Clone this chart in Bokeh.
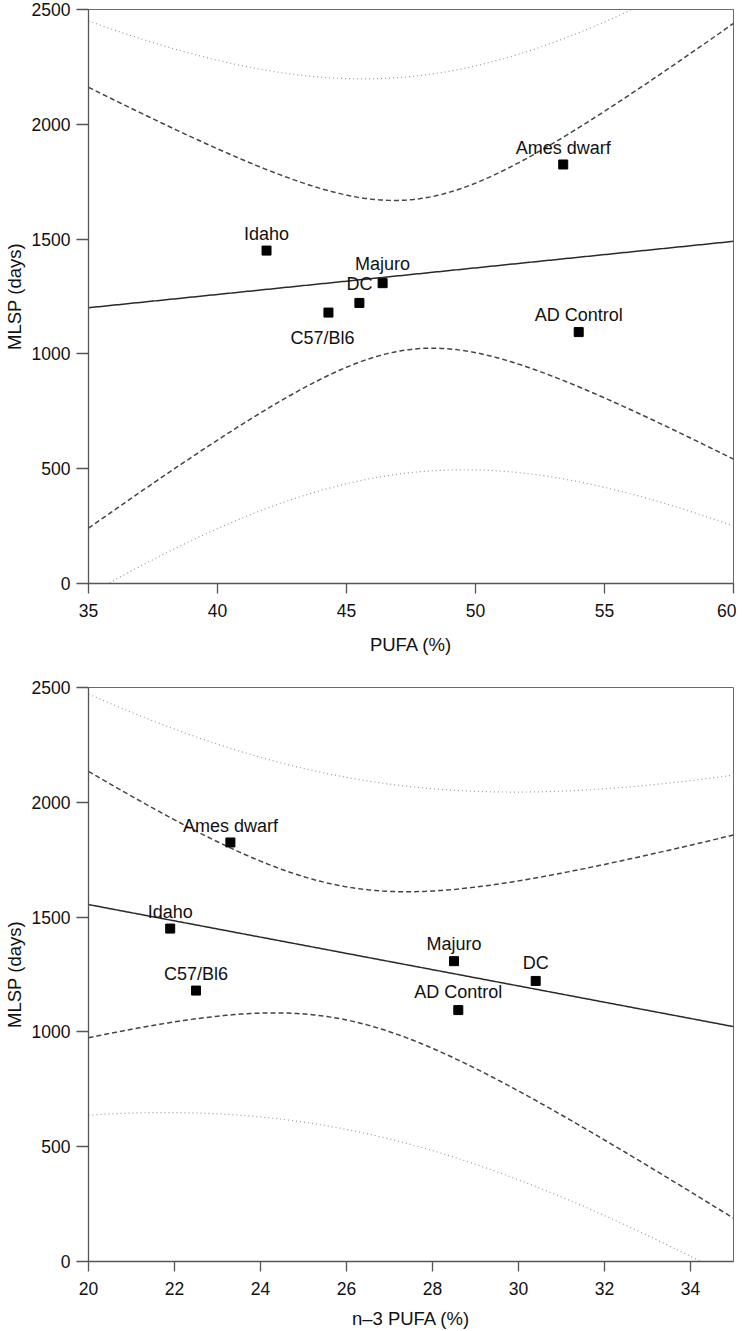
import numpy as np
from bokeh.plotting import figure
from bokeh.layouts import column
from bokeh.models import ColumnDataSource, FixedTicker, Range1d
from bokeh.embed import file_html
from bokeh.resources import INLINE
from bokeh.core.properties import value

# ---- data ----
names = ["Idaho", "C57/Bl6", "DC", "Majuro", "Ames dwarf", "AD Control"]
mlsp = [1450, 1180, 1222, 1308, 1825, 1095]          # MLSP (days)
pufa = [41.9, 44.3, 45.5, 46.4, 53.4, 54.0]          # PUFA (%)
n3_pufa = [21.9, 22.5, 30.4, 28.5, 23.3, 28.6]       # n-3 PUFA (%)

pufa_ticks = [35, 40, 45, 50, 55, 60]
n3_ticks = [20, 22, 24, 26, 28, 30, 32, 34]
mlsp_ticks = [0, 500, 1000, 1500, 2000, 2500]

T_CRIT = 2.776  # Student t, 97.5 %, df = n - 2 = 4

# label placement (pixels) – style only
top_dx = [0, -6, 0, 0, 0, 0]
top_dy = [-17, 25, -19, -19, -16, -17]
bot_dx = [0, 0, 0, 0, 0, 0]
bot_dy = [-17, -17, -18, -17, -16, -18]

FONT = "Liberation Sans"


def fit_bands(x, y, lo, hi):
    x = np.asarray(x, float)
    y = np.asarray(y, float)
    n = len(x)
    b, a = np.polyfit(x, y, 1)
    resid = y - (a + b * x)
    s = np.sqrt(np.sum(resid ** 2) / (n - 2))
    xm = x.mean()
    sxx = np.sum((x - xm) ** 2)
    xs = np.linspace(lo, hi, 301)
    yh = a + b * xs
    ci = T_CRIT * s * np.sqrt(1.0 / n + (xs - xm) ** 2 / sxx)
    pi = T_CRIT * s * np.sqrt(1.0 + 1.0 / n + (xs - xm) ** 2 / sxx)
    return xs, yh, ci, pi


def make_fig(xv, xlo, xhi, xticks, xlabel, dx, dy, border_top, border_bottom,
             title_standoff):
    p = figure(frame_width=645, frame_height=574,
               x_range=Range1d(xlo, xhi), y_range=Range1d(0, 2500),
               output_backend="svg", toolbar_location=None,
               min_border_left=78, min_border_right=3,
               min_border_top=border_top, min_border_bottom=border_bottom)
    p.grid.visible = False
    p.background_fill_color = "white"
    p.border_fill_color = "white"
    p.outline_line_color = "#6a6a6a"
    p.outline_line_width = 1

    xs, yh, ci, pi = fit_bands(xv, mlsp, xlo, xhi)
    p.line(xs, yh + pi, line_color="#9a9a9a", line_width=1.2, line_dash="1 3")
    p.line(xs, yh - pi, line_color="#9a9a9a", line_width=1.2, line_dash="1 3")
    p.line(xs, yh + ci, line_color="#444444", line_width=1.5, line_dash="5 3")
    p.line(xs, yh - ci, line_color="#444444", line_width=1.5, line_dash="5 3")
    p.line(xs, yh, line_color="#2a2a2a", line_width=1.5)

    src = ColumnDataSource(dict(x=xv, y=mlsp, name=names, dx=dx, dy=dy))
    p.scatter("x", "y", source=src, marker="square", size=9,
              fill_color="black", line_color="black")
    p.text("x", "y", text="name", source=src, x_offset="dx", y_offset="dy",
           text_align="center", text_baseline="middle",
           text_font=value(FONT), text_font_size="18px", text_color="#111111")

    for ax in (p.xaxis[0], p.yaxis[0]):
        ax.axis_line_color = "#555555"
        ax.axis_line_width = 1.3
        ax.major_tick_line_color = "#555555"
        ax.major_tick_line_width = 1.3
        ax.minor_tick_line_color = None
        ax.major_tick_in = 0
        ax.major_label_text_font = FONT
        ax.major_label_text_font_size = "17.5px"
        ax.major_label_text_color = "#111111"
        ax.axis_label_text_font = FONT
        ax.axis_label_text_font_size = "18.5px"
        ax.axis_label_text_font_style = "normal"
        ax.axis_label_text_color = "#111111"

    p.xaxis.ticker = FixedTicker(ticks=xticks)
    p.xaxis.major_tick_out = 10
    p.xaxis.major_label_standoff = 10
    p.xaxis.axis_label = xlabel
    p.xaxis.axis_label_standoff = title_standoff

    p.yaxis.ticker = FixedTicker(ticks=mlsp_ticks)
    p.yaxis.major_tick_out = 12
    p.yaxis.major_label_standoff = 6
    p.yaxis.axis_label = "MLSP (days)"
    p.yaxis.axis_label_standoff = 4
    return p


p1 = make_fig(pufa, 35, 60, pufa_ticks, "PUFA (%)", top_dx, top_dy, 9, 70, 14)
p2 = make_fig(n3_pufa, 20, 35, n3_ticks, "n\u20133 PUFA (%)", bot_dx, bot_dy, 30, 66, 10)

layout = column(p1, p2, spacing=0)
open("out.html", "w").write(file_html(layout, INLINE))
